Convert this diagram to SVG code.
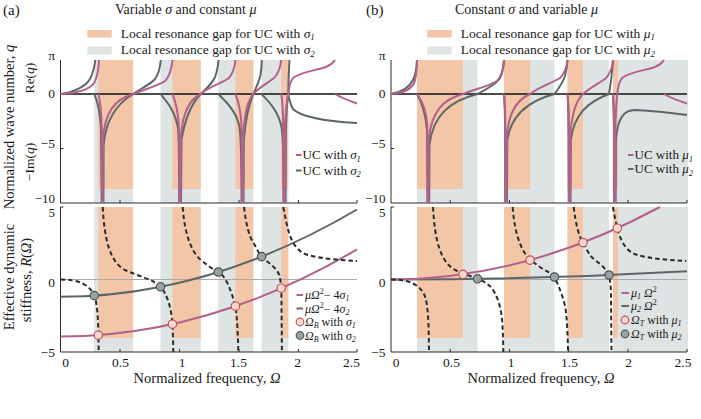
<svg xmlns="http://www.w3.org/2000/svg" width="701" height="419" viewBox="0 0 701 419">
<style>
.t{font-family:"Liberation Serif","Times New Roman",serif;fill:#1a1a1a}
.i{font-style:italic}
.or{fill:#f2c6a7}
.gb{fill:#dee3e3}
.pk{fill:none;stroke:#b2608c;stroke-width:2}
.gy{fill:none;stroke:#5d6767;stroke-width:2}
.ds{fill:none;stroke:#2b2b2b;stroke-width:2;stroke-dasharray:4.5 3}
.ax{fill:none;stroke:#2b2b2b;stroke-width:1}
.z0{stroke:#111;stroke-width:1.6}
.zl{stroke:#aaaaaa;stroke-width:1}
.cp{fill:#f7d9d0;stroke:#c4525a;stroke-width:1.2}
.cg{fill:#98a3a3;stroke:#4a5454;stroke-width:1.2}
</style>
<defs>
<path id="R" class="ds" d="M60.5,279.5 C79,279.5 90,285 94.3,295.6 C97,302 98.2,318 98.4,335 L98.7,352
M102.7,207 C104.5,240 110,262 125,270 C140,277 153,279 160.5,286.8 C167,294 171.5,308 172.4,324.2 C172.9,333 173.2,343 173.3,352
M182.7,207 C184.5,233 191,252 201,260 C207,265 213,269.5 218.3,272 C226,276 231,290 235.4,306.2 C237,315 238,335 238.3,352
M244,207 C246,224 249,236 253.3,242.6 C256.5,248 258.5,253 261.6,256.6 C266,261.5 275.5,266 279.3,275 C280.6,280 281.2,286 281.4,294 L281.9,352
M283.3,207 C285,216 286.5,224 288.5,231 C291,240 296,250 305,254 C320,259 340,260 357,261"/>
</defs>

<g id="headers" class="t">
<text x="3" y="15" font-size="15">(a)</text>
<text x="115" y="14" font-size="14">Variable <tspan class="i">σ</tspan> and constant <tspan class="i">μ</tspan></text>
<text x="366" y="15" font-size="15">(b)</text>
<text x="455" y="14" font-size="14">Constant <tspan class="i">σ</tspan> and variable <tspan class="i">μ</tspan></text>
</g>

<g id="legend-gaps-a">
<rect class="or" x="87.3" y="30" width="24.4" height="7.5"/>
<rect class="gb" x="87.3" y="46.5" width="24.4" height="8"/>
<text class="t" x="120.7" y="37.5" font-size="13.5">Local resonance gap for UC with <tspan class="i">σ</tspan><tspan class="i" font-size="9" dy="2.5">1</tspan></text>
<text class="t" x="120.7" y="54" font-size="13.5">Local resonance gap for UC with <tspan class="i">σ</tspan><tspan class="i" font-size="9" dy="2.5">2</tspan></text>
</g>
<g id="legend-gaps-b">
<rect class="or" x="427.3" y="30" width="24.4" height="7.5"/>
<rect class="gb" x="427.3" y="46.5" width="24.4" height="8"/>
<text class="t" x="460.7" y="37.5" font-size="13.5">Local resonance gap for UC with <tspan class="i">μ</tspan><tspan class="i" font-size="9" dy="2.5">1</tspan></text>
<text class="t" x="460.7" y="54" font-size="13.5">Local resonance gap for UC with <tspan class="i">μ</tspan><tspan class="i" font-size="9" dy="2.5">2</tspan></text>
</g>

<g id="bands-a">
<rect class="gb" x="94.3" y="60" width="38.8" height="143"/>
<rect class="or" x="98.3" y="60" width="34.8" height="129"/>
<rect class="gb" x="160.5" y="60" width="40.2" height="143"/>
<rect class="or" x="172.4" y="60" width="28.3" height="129"/>
<rect class="gb" x="218.3" y="60" width="35" height="143"/>
<rect class="or" x="235.4" y="60" width="17.9" height="129"/>
<rect class="gb" x="261.6" y="60" width="26.7" height="143"/>
<rect class="or" x="281.2" y="60" width="7.1" height="129"/>
<rect class="gb" x="94.3" y="207" width="38.8" height="145"/>
<rect class="or" x="98.3" y="207" width="34.8" height="131"/>
<rect class="gb" x="160.5" y="207" width="40.2" height="145"/>
<rect class="or" x="172.4" y="207" width="28.3" height="131"/>
<rect class="gb" x="218.3" y="207" width="35" height="145"/>
<rect class="or" x="235.4" y="207" width="17.9" height="131"/>
<rect class="gb" x="261.6" y="207" width="26.7" height="145"/>
<rect class="or" x="281.2" y="207" width="7.1" height="131"/>
</g>
<g id="bands-b">
<rect class="gb" x="417" y="60" width="60.5" height="143"/>
<rect class="or" x="417" y="60" width="46" height="129"/>
<rect class="gb" x="504" y="60" width="50.5" height="143"/>
<rect class="or" x="504" y="60" width="26.1" height="129"/>
<rect class="gb" x="567.5" y="60" width="41.5" height="143"/>
<rect class="or" x="567.5" y="60" width="15.5" height="129"/>
<rect class="gb" x="613" y="60" width="75" height="143"/>
<rect class="or" x="613" y="60" width="5" height="129"/>
<rect class="gb" x="417" y="207" width="60.5" height="145"/>
<rect class="or" x="417" y="207" width="46" height="131"/>
<rect class="gb" x="504" y="207" width="50.5" height="145"/>
<rect class="or" x="504" y="207" width="26.1" height="131"/>
<rect class="gb" x="567.5" y="207" width="41.5" height="145"/>
<rect class="or" x="567.5" y="207" width="15.5" height="131"/>
<rect class="gb" x="613" y="207" width="75" height="145"/>
<rect class="or" x="613" y="207" width="5" height="131"/>
</g>

<g id="axes">
<line class="z0" x1="60.5" y1="94" x2="357" y2="94"/>
<line class="z0" x1="391" y1="94" x2="687" y2="94"/>
<line class="zl" x1="60.5" y1="279.5" x2="357" y2="279.5"/>
<line class="zl" x1="391" y1="279.5" x2="687" y2="279.5"/>
<path class="ax" d="M60.5,60 V203 H357 M60.5,148.5 h3 M120,203 v-3 M179.5,203 v-3 M239,203 v-3 M298.5,203 v-3 M357,203 v-3"/>
<path class="ax" d="M63.5,207 H60.5 V352 H357 M120,352 v-3 M179.5,352 v-3 M239,352 v-3 M298.5,352 v-3 M357,352 v-3"/>
<path class="ax" d="M391,60 V203 H687 M391,148.5 h3 M450.25,203 v-3 M509.5,203 v-3 M568.75,203 v-3 M628,203 v-3 M687,203 v-3"/>
<path class="ax" d="M394,207 H391 V352 H687 M450.25,352 v-3 M509.5,352 v-3 M568.75,352 v-3 M628,352 v-3 M687,352 v-3"/>
</g>

<g id="tick-labels" class="t" font-size="13.5">
<g text-anchor="end">
<text x="55" y="60">π</text><text x="55" y="97.5">0</text><text x="55" y="147.5">−5</text><text x="55" y="202.5" font-size="13">−10</text>
<text x="55" y="217" font-size="13">5</text><text x="55" y="286.5">0</text><text x="55" y="357">−5</text>
<text x="385.5" y="60">π</text><text x="385.5" y="97.5">0</text><text x="385.5" y="147.5">−5</text><text x="385.5" y="202.5" font-size="13">−10</text>
<text x="385.5" y="217" font-size="13">5</text><text x="385.5" y="286.5">0</text><text x="385.5" y="357">−5</text>
</g>
<g text-anchor="middle">
<text x="65.7" y="367">0</text><text x="120.5" y="367">0.5</text><text x="182" y="367">1</text><text x="238.5" y="367">1.5</text><text x="297.5" y="367">2</text><text x="351.5" y="367">2.5</text>
<text x="396" y="367">0</text><text x="451.5" y="367">0.5</text><text x="511" y="367">1</text><text x="569.5" y="367">1.5</text><text x="628.5" y="367">2</text><text x="683" y="367">2.5</text>
</g>
</g>

<g id="axis-titles" class="t" font-size="14.5" text-anchor="middle">
<text x="207" y="383">Normalized frequency, <tspan class="i">Ω</tspan></text>
<text x="541" y="383">Normalized frequency, <tspan class="i">Ω</tspan></text>
<text transform="translate(14,127) rotate(-90)">Normalized wave number, <tspan class="i">q</tspan></text>
<text transform="translate(34,78) rotate(-90)" font-size="13.5">Re(<tspan class="i">q</tspan>)</text>
<text transform="translate(34,162) rotate(-90)" font-size="13.5">−Im(<tspan class="i">q</tspan>)</text>
<text transform="translate(14,277) rotate(-90)">Effective dynamic</text>
<text transform="translate(30.5,280) rotate(-90)">stiffness, <tspan class="i">R</tspan>(<tspan class="i">Ω</tspan>)</text>
</g>

<g id="dispersion-a">
<path class="gy" d="M60.5,94 C75,92 86,86 90,79 C93,73 94.5,67 95.3,60
M94.3,94 C97,100 100,112 101,128 L101.7,203
M103.4,203 L103.6,145 C106,118 118,103 133.1,94
M133.1,94 C138,90 150,85 155,79 C158,75 160,68 160.8,60
M160.5,94 C166,101 175,110 178,128 C178.8,135 179.1,150 179.2,203
M181,203 L181.5,140 C185,118 193,102 200.7,94
M200.7,94 C206,89 212,84 215,77 C217,72 218,66 218.5,60
M218.3,94 C225,101 236,110 239.5,127 C240.8,135 241.5,150 241.6,203
M243.5,203 L243.8,140 C245.5,118 249,104 253.3,94
M253.3,94 C256,88 259,82 260.5,75 C261.3,70 261.7,65 261.8,60
M261.6,94 C268,101 278,110 281.5,127 C283,135 283.7,150 283.8,203
M285.5,203 L285.8,130 C286.5,110 287.5,98 288.3,94 C289.2,99 290.5,105 293,109 C300,116 320,121 357,123
M288.3,94 C288.5,80 288.8,70 289.5,60"/>
<path class="pk" d="M60.5,94 C78,93 90,89 94,83 C97,78 98.5,70 99,60
M98.3,94 C100,100 101.3,112 101.7,128 L102.2,203
M102.8,203 L103,140 C104.5,112 115,99 133.1,94
M133.1,94 C142,90 158,86 165,81 C169,77 171.5,70 172.5,60
M172.4,94 C175,100 178,110 179,128 L179.6,203
M180.5,203 L181,135 C183,112 190,99 200.7,94
M200.7,94 C207,88 222,83 229,78 C232.5,74 234.5,68 235.5,60
M235.4,94 C238,100 240.5,110 241.5,125 L242,203
M243,203 L243.3,135 C244.5,112 248,100 253.3,94
M253.3,94 C258,88 268,83 274,78 C278,74 280.5,67 281.2,60
M281.2,94 C282.2,100 283,110 283.2,125 L283.4,203
M284.8,203 L285,125 C285.8,110 287,100 288.3,94
M288.3,94 C289,86 290,82 293,78 C300,72 318,70 326,67 C330,65.5 333,63 335,60
M335,94 C340,97 350,101 357,103.5"/>
</g>

<g id="dispersion-b">
<path class="gy" d="M391,94 C403,92 410,86 413,80 C415.5,75 416.7,68 417,60
M417,94 C420.5,100 425.5,112 427,130 L427.5,203
M429.2,203 L429.4,145 C433,115 450,101 477.5,94
M477.5,94 C485,90 495,85 499.5,79 C502,75 503.5,68 504,60
M504,94 C504.6,101 505,114 505.1,130 L505.3,203
M507,203 L507.3,140 C511,115 528,101 554.5,94
M554.5,94 C559,88 563,82 565,76 C566.5,70 567.2,65 567.5,60
M567.5,94 C568.1,101 568.5,114 568.6,130 L568.8,203
M570.5,203 L570.8,140 C574,115 587,102 609,94
M609,94 C610.5,85 612.3,72 613,60
M613,94 C613.5,101 613.8,114 613.9,130 L614,203
M615.6,203 L615.9,140 C617.5,118 624,110 635,110 C655,111 672,113 687,115"/>
<path class="pk" d="M391,94 C405,93 412,88 414.5,82 C416,77 416.8,70 417,60
M417,94 C421,99 426,108 427.3,125 L427.8,203
M428.6,203 L428.8,140 C431,112 443,99 463,94
M463,94 C472,90 490,86 497,81 C501,77 503.3,70 504,60
M504,94 C504.8,100 505.2,112 505.3,128 L505.5,203
M506.5,203 L506.8,135 C509,112 518,99 530.1,94
M530.1,94 C537,88 552,83 560,78 C564,74 566.7,68 567.5,60
M567.5,94 C568.3,100 568.7,112 568.8,128 L569,203
M570,203 L570.3,135 C572,112 576.5,100 583,94
M583,94 C589,88 600,83 606,78 C610,74 612.3,67 613,60
M613,94 C613.6,100 613.9,112 614,128 L614.2,203
M615.2,203 L615.4,125 C615.9,110 616.6,100 617.3,94
M617.3,94 C618,86 619,82 622,78 C629,72 647,70 655,67 C659,65.5 662,63 664,60
M664,94 C669,97 679,101 687,103.5"/>
</g>

<g id="legend-uc" class="t" font-size="13">
<line class="pk" x1="296" y1="155" x2="301.5" y2="155"/>
<line class="gy" x1="296" y1="170.5" x2="301.5" y2="170.5"/>
<text x="302.5" y="159">UC with <tspan class="i">σ</tspan><tspan class="i" font-size="8.5" dy="2.5">1</tspan></text>
<text x="302.5" y="174.5">UC with <tspan class="i">σ</tspan><tspan class="i" font-size="8.5" dy="2.5">2</tspan></text>
<line class="pk" x1="628" y1="155" x2="633.5" y2="155"/>
<line class="gy" x1="628" y1="169" x2="633.5" y2="169"/>
<text x="634.5" y="159">UC with <tspan class="i">μ</tspan><tspan class="i" font-size="8.5" dy="2.5">1</tspan></text>
<text x="634.5" y="173">UC with <tspan class="i">μ</tspan><tspan class="i" font-size="8.5" dy="2.5">2</tspan></text>
</g>

<g id="stiffness-a">
<path class="gy" d="M60.5,296.8 Q208.7,296.8 357,209.5"/>
<path class="pk" d="M60.5,336.6 Q208.7,336.6 357,249.4"/>
<use href="#R"/>
<circle class="cg" cx="94.3" cy="295.6" r="4.2"/>
<circle class="cg" cx="160.5" cy="286.8" r="4.2"/>
<circle class="cg" cx="218.3" cy="272" r="4.2"/>
<circle class="cg" cx="261.6" cy="256.6" r="4.2"/>
<circle class="cp" cx="98.3" cy="335.2" r="4.2"/>
<circle class="cp" cx="172.4" cy="324.2" r="4.2"/>
<circle class="cp" cx="235.4" cy="306.2" r="4.2"/>
<circle class="cp" cx="281.2" cy="288.2" r="4.2"/>
</g>

<g id="stiffness-b">
<path class="gy" d="M391,279.5 Q539,279.5 687,271.2"/>
<path class="pk" d="M391,279.5 Q525.5,279.5 660,207"/>
<use href="#R" transform="matrix(0.9958 0 0 1 330.75 0)"/>
<circle class="cg" cx="477.5" cy="278.8" r="4.2"/>
<circle class="cg" cx="554.5" cy="277" r="4.2"/>
<circle class="cg" cx="609" cy="275" r="4.2"/>
<circle class="cp" cx="463" cy="274.3" r="4.2"/>
<circle class="cp" cx="530.1" cy="260.1" r="4.2"/>
<circle class="cp" cx="583" cy="242.6" r="4.2"/>
<circle class="cp" cx="617.3" cy="228.2" r="4.2"/>
</g>

<g id="legend-a" class="t" font-size="12">
<line class="pk" x1="296.5" y1="295" x2="303" y2="295"/>
<line class="gy" x1="296.5" y1="308.5" x2="303" y2="308.5"/>
<circle class="cp" cx="300" cy="322" r="3.8"/>
<circle class="cg" cx="300" cy="335.5" r="3.8"/>
<text x="305" y="299"><tspan class="i">μΩ</tspan><tspan font-size="8" dy="-5">2</tspan><tspan dy="5">− 4</tspan><tspan class="i">σ</tspan><tspan class="i" font-size="8" dy="2">1</tspan></text>
<text x="305" y="312.5"><tspan class="i">μΩ</tspan><tspan font-size="8" dy="-5">2</tspan><tspan dy="5">− 4</tspan><tspan class="i">σ</tspan><tspan class="i" font-size="8" dy="2">2</tspan></text>
<text x="305" y="326"><tspan class="i">Ω</tspan><tspan class="i" font-size="8" dy="2">B</tspan><tspan dy="-2"> with </tspan><tspan class="i">σ</tspan><tspan class="i" font-size="8" dy="2">1</tspan></text>
<text x="305" y="339.5"><tspan class="i">Ω</tspan><tspan class="i" font-size="8" dy="2">B</tspan><tspan dy="-2"> with </tspan><tspan class="i">σ</tspan><tspan class="i" font-size="8" dy="2">2</tspan></text>
</g>

<g id="legend-b" class="t" font-size="12">
<line class="pk" x1="621.5" y1="293" x2="629" y2="293"/>
<line class="gy" x1="621.5" y1="306" x2="629" y2="306"/>
<circle class="cp" cx="625" cy="320" r="3.8"/>
<circle class="cg" cx="625" cy="334" r="3.8"/>
<text x="631" y="297"><tspan class="i">μ</tspan><tspan class="i" font-size="8" dy="2">1</tspan><tspan class="i" dy="-2"> Ω</tspan><tspan font-size="8" dy="-5">2</tspan></text>
<text x="631" y="310"><tspan class="i">μ</tspan><tspan class="i" font-size="8" dy="2">2</tspan><tspan class="i" dy="-2"> Ω</tspan><tspan font-size="8" dy="-5">2</tspan></text>
<text x="631" y="324"><tspan class="i">Ω</tspan><tspan class="i" font-size="8" dy="2">T</tspan><tspan dy="-2"> with </tspan><tspan class="i">μ</tspan><tspan class="i" font-size="8" dy="2">1</tspan></text>
<text x="631" y="338"><tspan class="i">Ω</tspan><tspan class="i" font-size="8" dy="2">T</tspan><tspan dy="-2"> with </tspan><tspan class="i">μ</tspan><tspan class="i" font-size="8" dy="2">2</tspan></text>
</g>
</svg>
